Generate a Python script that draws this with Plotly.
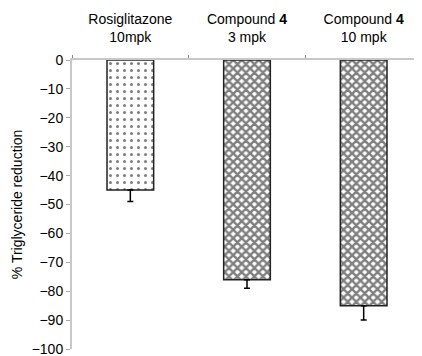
import plotly.graph_objects as go

categories = ["Rosiglitazone<br>10mpk", "Compound <b>4</b><br>3 mpk", "Compound <b>4</b><br>10 mpk"]
values = [-45, -76, -85]
errors_minus = [4, 3, 5]
y_ticks = [0, -10, -20, -30, -40, -50, -60, -70, -80, -90, -100]

fig = go.Figure()
shapes = [".", "x", "x"]
sizes = [7, 6, 6]
solid = [0.15, 0.65, 0.65]
for i, c in enumerate(categories):
    fig.add_trace(go.Bar(
        x=[c], y=[values[i]],
        width=0.4,
        marker=dict(color="white", line=dict(color="#222", width=1.5),
                    pattern=dict(shape=shapes[i], fgcolor="black", bgcolor="white",
                                 size=sizes[i], solidity=solid[i], fillmode="overlay")),
        error_y=dict(type="data", symmetric=False, array=[0], arrayminus=[errors_minus[i]],
                     color="black", thickness=1.5, width=3),
        showlegend=False,
    ))

fig.update_layout(
    width=422, height=356,
    margin=dict(l=64, r=8, t=52, b=15, autoexpand=False),
    plot_bgcolor="white", paper_bgcolor="white",
    font=dict(family="Liberation Sans, Arial, sans-serif", size=14, color="black"),
)
fig.update_xaxes(side="top", type="category", tickson="boundaries", ticks="outside", ticklen=3,
                 tickcolor="#888", showline=True, linecolor="#c8c8c8", linewidth=2,
                 showgrid=False, tickfont=dict(size=14), ticklabelstandoff=10, automargin=False)
fig.update_yaxes(range=[-100, 0], tickvals=y_ticks, ticks="outside", ticklen=4, tickcolor="#aaa",
                 showline=True, linecolor="#c8c8c8", linewidth=2, showgrid=False, zeroline=False,
                 automargin=False, tickfont=dict(size=14),
                 title=dict(text="% Triglyceride reduction", font=dict(size=14), standoff=6))
fig.write_html("out.html")
